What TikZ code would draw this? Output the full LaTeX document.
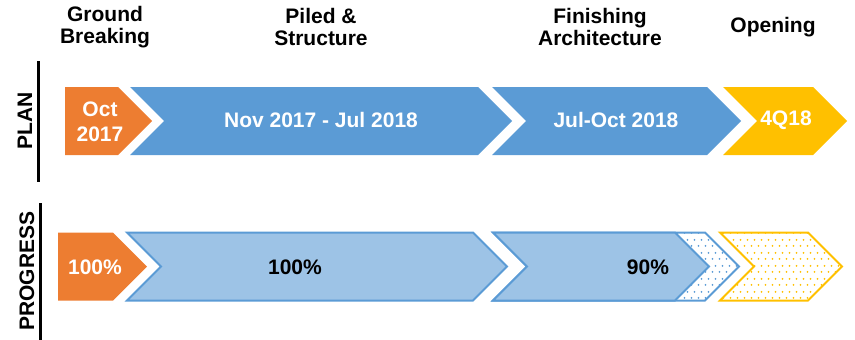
\documentclass[tikz,border=0pt]{standalone}
\usepackage{fontspec}
\setmainfont{Liberation Sans}
\usetikzlibrary{patterns.meta}

\definecolor{gborange}{HTML}{ED7D31}
\definecolor{phblue}{HTML}{5B9BD5}
\definecolor{phlight}{HTML}{9DC3E6}
\definecolor{opyellow}{HTML}{FFC000}

\tikzdeclarepattern{name=dotgrid, type=uncolored,
	bounding box={(0pt,0pt) and (6.5pt,13pt)}, tile size={(6.5pt,13pt)},
	code={\fill (1.6pt,3.25pt) circle (1.05pt); \fill (4.85pt,9.75pt) circle (1.05pt);}}

\newcommand{\chevflat}[4]{\path[#1] (#2,#4-34) -- (#3,#4-34) -- (#3+34,#4) -- (#3,#4+34) -- (#2,#4+34) -- cycle;}
\newcommand{\chevnotch}[4]{\path[#1] (#2,#4-34) -- (#3,#4-34) -- (#3+34,#4) -- (#3,#4+34) -- (#2,#4+34) -- (#2+34,#4) -- cycle;}

\tikzset{
	txt/.style={font=\fontsize{21}{21.5}\selectfont\bfseries, align=center, inner sep=0pt},
	wtxt/.style={txt, text=white},
	done/.style={fill=phlight, draw=phblue, line width=2pt, line join=miter},
	todo/.style={pattern={dotgrid}, draw=#1, pattern color=#1, line width=2pt, line join=miter}
}

\begin{document}
\begin{tikzpicture}[x=1pt,y=-1pt]
	\useasboundingbox (0,0) rectangle (855,340);

	\node[txt] (gb) at (105,27) {Ground\\Breaking};
	\node[txt] (ps) at (321,27) {Piled \&\\Structure};
	\node[txt] (fa) at (600,27) {Finishing\\Architecture};
	\node[txt] (op) at (773,27) {Opening};

	\draw[line width=3pt] (38.5,61) -- (38.5,182);
	\draw[line width=3pt] (40,203) -- (40,340);
	\node[txt, rotate=90] (plan) at (25,121) {PLAN};
	\node[txt, rotate=90] (progress) at (27,271) {PROGRESS};

	\chevflat{fill=gborange}{65}{118}{121}
	\chevnotch{fill=phblue}{130}{478}{121}
	\chevnotch{fill=phblue}{492}{707}{121}
	\chevnotch{fill=opyellow}{723}{813}{121}
	\node[wtxt, font=\fontsize{21}{25}\selectfont\bfseries] (oct) at (100,122) {Oct\\2017};
	\node[wtxt] (nov) at (321,120) {Nov 2017 - Jul 2018};
	\node[wtxt] (jul) at (616,120) {Jul-Oct 2018};
	\node[wtxt] (q4) at (786,120) {4Q18};

	\chevflat{fill=gborange}{58}{113}{266.5}
	\chevnotch{done}{127}{473}{266.5}
	\chevnotch{todo=phblue}{493}{705}{266.5}
	\chevnotch{done}{493}{675}{266.5}
	\chevnotch{todo=opyellow}{720}{808}{266.5}
	\node[wtxt] (gbp) at (95,267) {100\%};
	\node[txt] (psp) at (295,267) {100\%};
	\node[txt] (fap) at (648,267) {90\%};
\end{tikzpicture}
\end{document}
